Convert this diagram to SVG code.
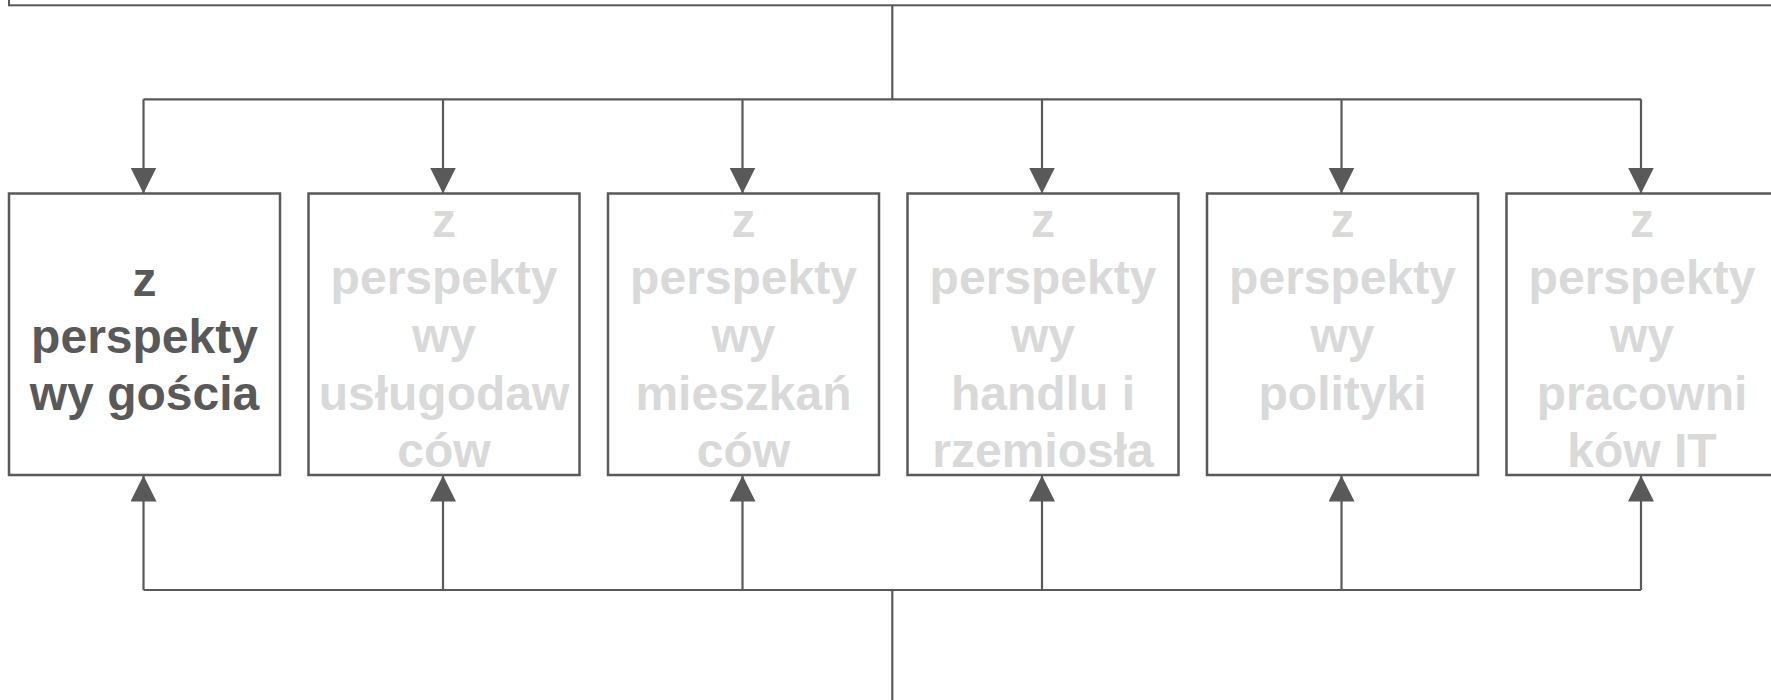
<svg xmlns="http://www.w3.org/2000/svg" width="1771" height="700" viewBox="0 0 1771 700">
  <style>
    .box { fill: #FFFFFF; stroke: #595959; stroke-width: 2.5; }
    .con { fill: none; stroke: #595959; stroke-width: 2.2; }
    .t { font-family: "Liberation Sans", Arial, sans-serif; font-weight: bold; font-size: 48px; text-anchor: middle; }
    .dark { fill: #595959; }
    .light { fill: #D9D9D9; }
  </style>
  <defs>
    <marker id="arr" markerUnits="userSpaceOnUse" markerWidth="26" markerHeight="26" refX="26" refY="13" orient="auto">
      <path d="M0,0 L26,13 L0,26 Z" fill="#595959"/>
    </marker>
  </defs>
  <rect width="1771" height="700" fill="#FFFFFF"/>

  <g id="top-box">
    <rect x="9" y="-100" width="1820" height="105.3" fill="#FFFFFF" stroke="#595959" stroke-width="2"/>
  </g>

  <g id="connectors">
    <line class="con" x1="892.3" y1="5" x2="892.3" y2="99.3"/>
    <line class="con" x1="143.5" y1="99.3" x2="1641" y2="99.3"/>
    <line class="con" x1="143.5" y1="99.3" x2="143.5" y2="193.5" marker-end="url(#arr)"/>
    <line class="con" x1="443" y1="99.3" x2="443" y2="193.5" marker-end="url(#arr)"/>
    <line class="con" x1="742.5" y1="99.3" x2="742.5" y2="193.5" marker-end="url(#arr)"/>
    <line class="con" x1="1042" y1="99.3" x2="1042" y2="193.5" marker-end="url(#arr)"/>
    <line class="con" x1="1341.5" y1="99.3" x2="1341.5" y2="193.5" marker-end="url(#arr)"/>
    <line class="con" x1="1641" y1="99.3" x2="1641" y2="193.5" marker-end="url(#arr)"/>

    <line class="con" x1="143.5" y1="590" x2="1641" y2="590"/>
    <line class="con" x1="892.3" y1="590" x2="892.3" y2="700"/>
    <line class="con" x1="143.5" y1="590" x2="143.5" y2="475.5" marker-end="url(#arr)"/>
    <line class="con" x1="443" y1="590" x2="443" y2="475.5" marker-end="url(#arr)"/>
    <line class="con" x1="742.5" y1="590" x2="742.5" y2="475.5" marker-end="url(#arr)"/>
    <line class="con" x1="1042" y1="590" x2="1042" y2="475.5" marker-end="url(#arr)"/>
    <line class="con" x1="1341.5" y1="590" x2="1341.5" y2="475.5" marker-end="url(#arr)"/>
    <line class="con" x1="1641" y1="590" x2="1641" y2="475.5" marker-end="url(#arr)"/>
  </g>

  <g id="node-gosc">
    <rect class="box" x="9" y="193.5" width="271" height="281.5"/>
    <text class="t dark" x="144.5" y="296">z</text>
    <text class="t dark" x="144.5" y="353">perspekty</text>
    <text class="t dark" x="144.5" y="410">wy gościa</text>
  </g>

  <g id="node-uslugodawcy">
    <rect class="box" x="308.5" y="193.5" width="271" height="281.5"/>
    <text class="t light" x="444" y="236.5">z</text>
    <text class="t light" x="444" y="294">perspekty</text>
    <text class="t light" x="444" y="351.5">wy</text>
    <text class="t light" x="444" y="409.5">usługodaw</text>
    <text class="t light" x="444" y="467">ców</text>
  </g>

  <g id="node-mieszkancy">
    <rect class="box" x="608" y="193.5" width="271" height="281.5"/>
    <text class="t light" x="743.5" y="236.5">z</text>
    <text class="t light" x="743.5" y="294">perspekty</text>
    <text class="t light" x="743.5" y="351.5">wy</text>
    <text class="t light" x="743.5" y="409.5">mieszkań</text>
    <text class="t light" x="743.5" y="467">ców</text>
  </g>

  <g id="node-handel">
    <rect class="box" x="907.5" y="193.5" width="271" height="281.5"/>
    <text class="t light" x="1043" y="236.5">z</text>
    <text class="t light" x="1043" y="294">perspekty</text>
    <text class="t light" x="1043" y="351.5">wy</text>
    <text class="t light" x="1043" y="409.5">handlu i</text>
    <text class="t light" x="1043" y="467">rzemiosła</text>
  </g>

  <g id="node-polityka">
    <rect class="box" x="1207" y="193.5" width="271" height="281.5"/>
    <text class="t light" x="1342.5" y="236.5">z</text>
    <text class="t light" x="1342.5" y="294">perspekty</text>
    <text class="t light" x="1342.5" y="351.5">wy</text>
    <text class="t light" x="1342.5" y="409.5">polityki</text>
  </g>

  <g id="node-it">
    <rect class="box" x="1506.5" y="193.5" width="271" height="281.5"/>
    <text class="t light" x="1642" y="236.5">z</text>
    <text class="t light" x="1642" y="294">perspekty</text>
    <text class="t light" x="1642" y="351.5">wy</text>
    <text class="t light" x="1642" y="409.5">pracowni</text>
    <text class="t light" x="1642" y="467">ków IT</text>
  </g>
</svg>
